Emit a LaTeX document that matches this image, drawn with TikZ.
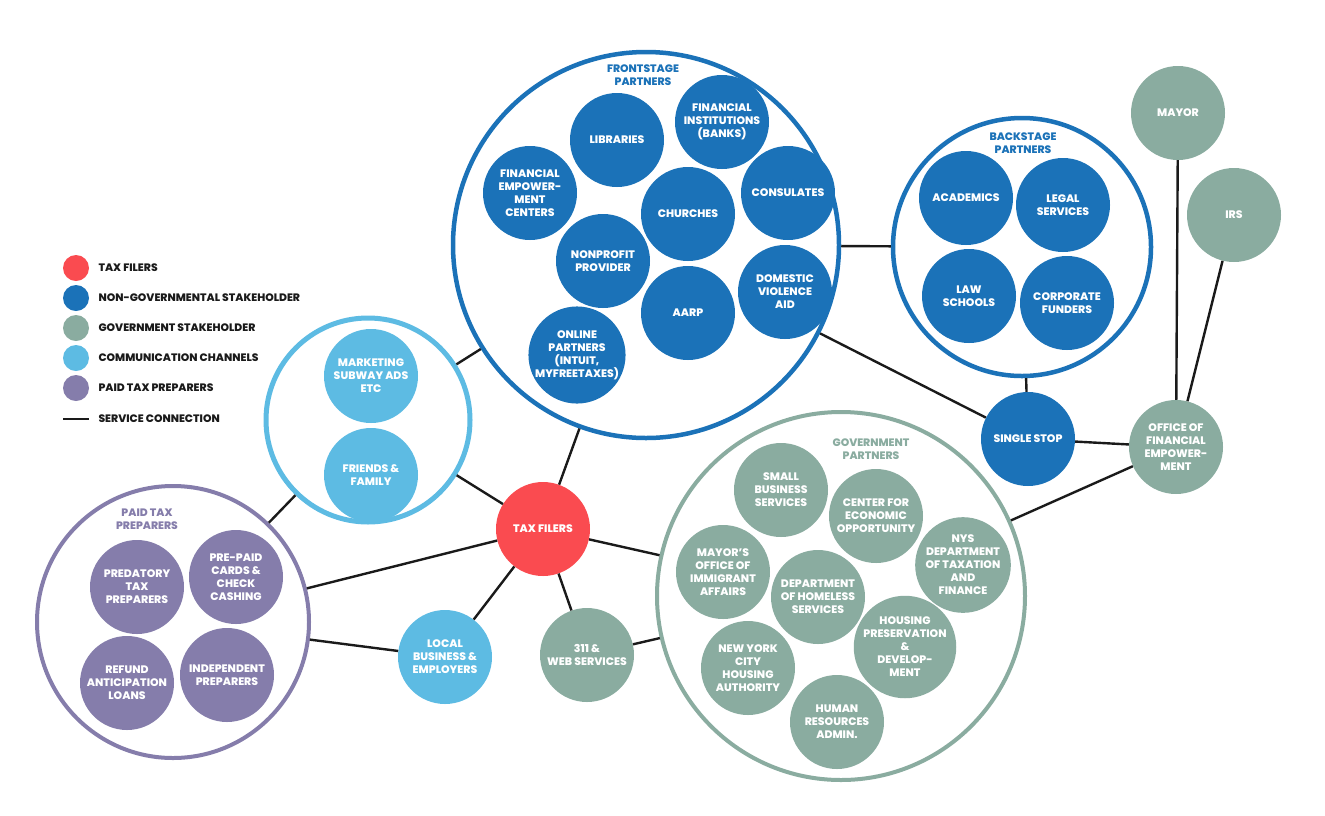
\documentclass[tikz,border=0pt]{standalone}
\usepackage{fontspec}
\setmainfont{Poppins}[BoldFont={* ExtraBold}]
\usepackage{xcolor}
\usepackage{tikz}
\definecolor{filerred}{HTML}{FA4B50}
\definecolor{ngoblue}{HTML}{1B72B8}
\definecolor{govgreen}{HTML}{8AACA0}
\definecolor{commblue}{HTML}{5DBBE3}
\definecolor{paidpurple}{HTML}{857DAB}
\definecolor{ink}{HTML}{1A1A1A}
\newcommand\stakefont{\fontsize{10.9}{13}\selectfont\bfseries}
\newcommand\titlefont{\fontsize{10.8}{12.8}\selectfont\bfseries}
\newcommand\keyfont{\fontsize{10.8}{12}\selectfont\bfseries}
\tikzset{
  dot/.style      ={circle,minimum size=94pt,inner sep=0pt,align=center,
                    text=white,font=\stakefont},
  filer/.style    ={dot,fill=filerred},
  ngo/.style      ={dot,fill=ngoblue},
  gov/.style      ={dot,fill=govgreen},
  comm/.style     ={dot,fill=commblue},
  paid/.style     ={dot,fill=paidpurple},
  group/.style    ={circle,inner sep=0pt,line width=4.5pt,fill=white},
  grouptitle/.style={align=center,font=\titlefont},
  link/.style     ={line width=2.4pt,draw=ink},
  key/.style      ={circle,minimum size=26pt,inner sep=0pt},
  keytext/.style  ={anchor=west,font=\keyfont,text=ink}
}
\begin{document}
\begin{tikzpicture}[x=1pt,y=-1pt]
    \useasboundingbox (0,0) rectangle (1325,815);
    % partner groups
    \node[group,draw=ngoblue,minimum size=386pt] (front) at (646,245) {};
    \node[group,draw=ngoblue,minimum size=258pt] (back) at (1022,247) {};
    \node[group,draw=commblue,line width=5pt,minimum size=204pt] (channels) at (368,420) {};
    \node[group,draw=paidpurple,line width=4pt,minimum size=272pt] (preparers) at (173,622) {};
    \node[group,draw=govgreen,line width=4pt,minimum size=368pt] (govt) at (841,596) {};
    \node[grouptitle,text=ngoblue] at (643,75) {FRONTSTAGE\\PARTNERS};
    \node[grouptitle,text=ngoblue] at (1023,143) {BACKSTAGE\\PARTNERS};
    \node[grouptitle,text=govgreen] at (871,449) {GOVERNMENT\\PARTNERS};
    \node[grouptitle,text=paidpurple] at (147,519) {PAID TAX\\PREPARERS};
    % frontstage
    \node[ngo] (libraries) at (617,140) {LIBRARIES};
    \node[ngo] (banks) at (722,122) {FINANCIAL\\INSTITUTIONS\\(BANKS)};
    \node[ngo] (fec) at (530,193) {FINANCIAL\\EMPOWER-\\MENT\\CENTERS};
    \node[ngo] (consulates) at (788,193) {CONSULATES};
    \node[ngo] (churches) at (688,214) {CHURCHES};
    \node[ngo] (nonprofit) at (603,261) {NONPROFIT\\PROVIDER};
    \node[ngo] (dva) at (785,292) {DOMESTIC\\VIOLENCE\\AID};
    \node[ngo] (aarp) at (688,313) {AARP};
    \node[ngo] (online) at (577,355) {ONLINE\\PARTNERS\\(INTUIT,\\MYFREETAXES)};
    % backstage
    \node[ngo] (academics) at (966,198) {ACADEMICS};
    \node[ngo] (legal) at (1063,205) {LEGAL\\SERVICES};
    \node[ngo] (lawschools) at (969,296) {LAW\\SCHOOLS};
    \node[ngo] (funders) at (1067,303) {CORPORATE\\FUNDERS};
    % city side
    \node[gov] (mayor) at (1178,113) {MAYOR};
    \node[gov] (irs) at (1234,215) {IRS};
    \node[ngo] (singlestop) at (1028,439) {SINGLE STOP};
    \node[gov] (ofe) at (1176,447) {OFFICE OF\\FINANCIAL\\EMPOWER-\\MENT};
    % channels
    \node[comm] (marketing) at (371,376) {MARKETING\\SUBWAY ADS\\ETC};
    \node[comm] (friends) at (371,475) {FRIENDS \&\\FAMILY};
    % paid preparers
    \node[paid] (predatory) at (137,587) {PREDATORY\\TAX\\PREPARERS};
    \node[paid] (prepaid) at (236,577) {PRE-PAID\\CARDS \&\\CHECK\\CASHING};
    \node[paid] (refund) at (127,683) {REFUND\\ANTICIPATION\\LOANS};
    \node[paid] (independent) at (227,675) {INDEPENDENT\\PREPARERS};
    % centre
    \node[filer] (filers) at (543,529) {TAX FILERS};
    \node[comm] (local) at (445,657) {LOCAL\\BUSINESS \&\\EMPLOYERS};
    \node[gov] (web) at (587,655) {311 \&\\WEB SERVICES};
    % government
    \node[gov] (sbs) at (781,490) {SMALL\\BUSINESS\\SERVICES};
    \node[gov] (ceo) at (876,516) {CENTER FOR\\ECONOMIC\\OPPORTUNITY};
    \node[gov] (immigrant) at (723,572) {MAYOR’S\\OFFICE OF\\IMMIGRANT\\AFFAIRS};
    \node[gov] (nys) at (963,565) {NYS\\DEPARTMENT\\OF TAXATION\\AND\\FINANCE};
    \node[gov] (homeless) at (818,597) {DEPARTMENT\\OF HOMELESS\\SERVICES};
    \node[gov] (housing) at (905,647) {HOUSING\\PRESERVATION\\\&\\DEVELOP-\\MENT};
    \node[gov] (nycha) at (748,668) {NEW YORK\\CITY\\HOUSING\\AUTHORITY};
    \node[gov] (hra) at (837,722) {HUMAN\\RESOURCES\\ADMIN.};
    % service connections
    \draw[link] (filers)--(front); \draw[link] (filers)--(channels);
    \draw[link] (filers)--(preparers); \draw[link] (filers)--(local);
    \draw[link] (filers)--(web); \draw[link] (filers)--(govt);
    \draw[link] (local)--(preparers); \draw[link] (web)--(govt);
    \draw[link] (channels)--(preparers); \draw[link] (channels)--(front);
    \draw[link] (front)--(back); \draw[link] (front)--(singlestop);
    \draw[link] (back)--(singlestop); \draw[link] (singlestop)--(ofe);
    \draw[link] (ofe)--(mayor); \draw[link] (ofe)--(irs);
    \draw[link] (ofe)--(govt);
    % legend
    \node[key,fill=filerred] (k1) at (76,268) {};
    \node[key,fill=ngoblue] (k2) at (76,298) {};
    \node[key,fill=govgreen] (k3) at (76,328) {};
    \node[key,fill=commblue] (k4) at (76,358) {};
    \node[key,fill=paidpurple] (k5) at (76,388) {};
    \coordinate (k6a) at (63,419); \coordinate (k6b) at (89,419);
    \draw[link] (k6a)--(k6b);
    \node[keytext] at (95,268) {TAX FILERS};
    \node[keytext] at (95,298) {NON-GOVERNMENTAL STAKEHOLDER};
    \node[keytext] at (95,328) {GOVERNMENT STAKEHOLDER};
    \node[keytext] at (95,358) {COMMUNICATION CHANNELS};
    \node[keytext] at (95,388) {PAID TAX PREPARERS};
    \node[keytext] at (95,419) {SERVICE CONNECTION};
  \end{tikzpicture}
\end{document}
